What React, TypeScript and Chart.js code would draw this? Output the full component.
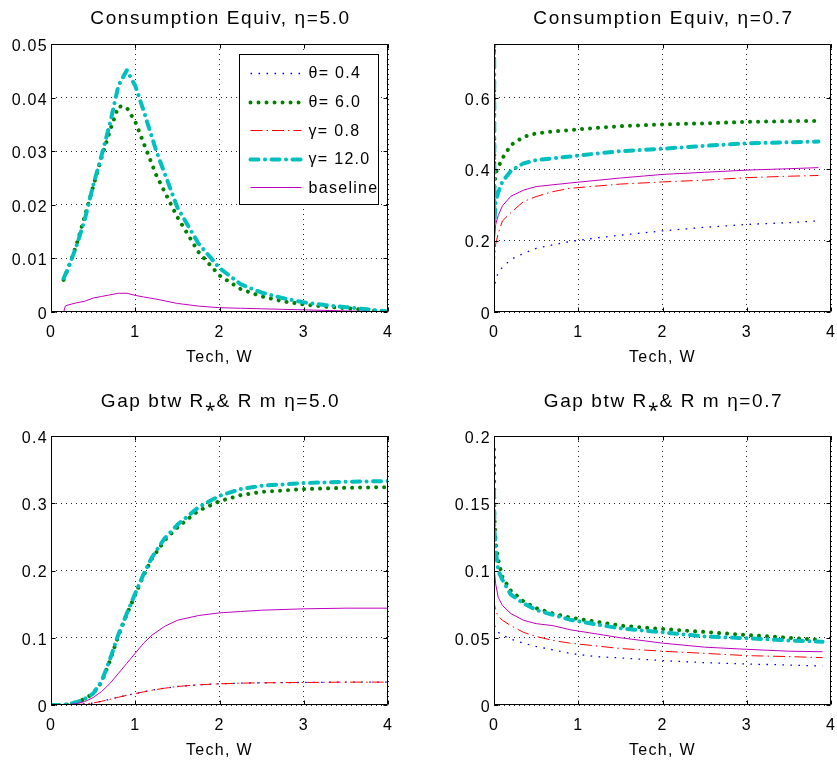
import React, { useEffect, useRef } from "react";
import { Chart, registerables } from "chart.js";

Chart.register(...registerables);

// ---------- shared ----------
const xTickValues = [0, 1, 2, 3, 4];
const legendLabels = ["θ= 0.4", "θ= 6.0", "γ= 0.8", "γ= 12.0", "baseline"];
const xAxisLabel = "Tech, W";

// ---------- panel A: Consumption Equiv, eta = 5.0 ----------
const aTitle = "Consumption Equiv, η=5.0";
const aX = [0.15, 0.17, 0.2, 0.3, 0.4, 0.5, 0.6, 0.7, 0.8, 0.9, 1.0, 1.1, 1.25, 1.5, 1.75, 2.0, 2.25, 2.5, 2.75, 3.0, 3.25, 3.5, 3.75, 4.0];
const aTheta04 = [0.00005, 0.00005, 0.00005, 0.00005, 0.00005, 0.00005, 0.00005, 0.00005, 0.00005, 0.00005, 0.00005, 0.00005, 0.00004, 0.00003, 0.00002, 0.00002, 0.00001, 0.00001, 0.00001, 0.00001, 0.00001, 0.0, 0.0, 0.0];
const aTheta60 = [0.006, 0.0068, 0.008, 0.0124, 0.0178, 0.0234, 0.0288, 0.0338, 0.0384, 0.0381, 0.0355, 0.0315, 0.0255, 0.0177, 0.0112, 0.0068, 0.0043, 0.0029, 0.002, 0.0014, 0.001, 0.0007, 0.0004, 0.0001];
const aGamma08 = [0.0001, 0.0001, 0.0001, 0.0001, 0.0001, 0.0001, 0.0001, 0.0001, 0.0001, 0.0001, 0.0001, 0.0001, 0.00008, 0.00006, 0.00005, 0.00004, 0.00003, 0.00003, 0.00002, 0.00002, 0.00001, 0.00001, 0.00001, 0.0];
const aGamma120 = [0.0063, 0.007, 0.008, 0.0122, 0.0172, 0.0236, 0.0292, 0.0352, 0.0422, 0.0451, 0.0422, 0.0375, 0.03, 0.0195, 0.0128, 0.0082, 0.0052, 0.0036, 0.0026, 0.0018, 0.0013, 0.0009, 0.0005, 0.0001];
const aBaseline = [0.0, 0.0011, 0.0013, 0.0017, 0.002, 0.0026, 0.0029, 0.0032, 0.0035, 0.0035, 0.0031, 0.0028, 0.0024, 0.0016, 0.0011, 0.0008, 0.0007, 0.0006, 0.0005, 0.0004, 0.0003, 0.0002, 0.0001, 0.0];
const aYTicks = [0, 0.01, 0.02, 0.03, 0.04, 0.05];
const aYMax = 0.05;

// ---------- panel B: Consumption Equiv, eta = 0.7 ----------
const bTitle = "Consumption Equiv, η=0.7";
const bX = [0, 0.005, 0.02, 0.05, 0.1, 0.2, 0.35, 0.5, 0.7, 0.9, 1.2, 1.5, 2.0, 2.5, 3.0, 3.5, 3.85];
const bTheta04 = [1.0, 0.07, 0.09, 0.11, 0.125, 0.147, 0.164, 0.178, 0.188, 0.197, 0.207, 0.215, 0.227, 0.237, 0.245, 0.25, 0.255];
const bTheta60 = [1.0, 0.35, 0.39, 0.405, 0.43, 0.467, 0.49, 0.5, 0.505, 0.509, 0.515, 0.52, 0.525, 0.528, 0.532, 0.534, 0.535];
const bGamma08 = [1.0, 0.14, 0.19, 0.22, 0.255, 0.278, 0.309, 0.323, 0.337, 0.346, 0.352, 0.358, 0.364, 0.369, 0.376, 0.38, 0.382];
const bGamma120 = [1.0, 0.25, 0.31, 0.335, 0.365, 0.395, 0.416, 0.425, 0.43, 0.435, 0.443, 0.45, 0.457, 0.465, 0.472, 0.475, 0.477];
const bBaseline = [1.0, 0.2, 0.245, 0.27, 0.297, 0.324, 0.341, 0.351, 0.356, 0.361, 0.368, 0.375, 0.385, 0.391, 0.397, 0.401, 0.404];
const bYTicks = [0, 0.2, 0.4, 0.6];
const bYMax = 0.75;

// ---------- panel C: Gap btw R* & Rm, eta = 5.0 ----------
const cTitle = "Gap btw R⁎& R m η=5.0";
const cX = [0, 0.1, 0.2, 0.3, 0.4, 0.5, 0.6, 0.7, 0.8, 0.9, 1.0, 1.1, 1.2, 1.35, 1.5, 1.75, 2.0, 2.25, 2.5, 3.0, 3.5, 4.0];
const cTheta04 = [0, 0, 0, 0.0005, 0.0015, 0.003, 0.0055, 0.0085, 0.0115, 0.0145, 0.017, 0.0195, 0.022, 0.025, 0.0275, 0.03, 0.0315, 0.0325, 0.033, 0.0335, 0.034, 0.034];
const cTheta60 = [0, 0, 0.001, 0.004, 0.009, 0.017, 0.034, 0.066, 0.103, 0.135, 0.164, 0.193, 0.218, 0.245, 0.264, 0.289, 0.303, 0.312, 0.317, 0.321, 0.323, 0.324];
const cGamma08 = [0, 0, 0, 0.0005, 0.0015, 0.003, 0.0055, 0.0085, 0.0115, 0.0145, 0.017, 0.0195, 0.022, 0.025, 0.0275, 0.03, 0.0315, 0.0325, 0.033, 0.0335, 0.034, 0.034];
const cGamma120 = [0, 0, 0.001, 0.004, 0.009, 0.017, 0.035, 0.068, 0.105, 0.136, 0.166, 0.195, 0.22, 0.248, 0.268, 0.294, 0.311, 0.321, 0.326, 0.33, 0.332, 0.333];
const cBaseline = [0, 0, 0.0005, 0.002, 0.005, 0.011, 0.02, 0.032, 0.047, 0.062, 0.077, 0.092, 0.104, 0.117, 0.126, 0.133, 0.137, 0.139, 0.141, 0.143, 0.144, 0.144];
const cYTicks = [0, 0.1, 0.2, 0.3, 0.4];
const cYMax = 0.4;

// ---------- panel D: Gap btw R* & Rm, eta = 0.7 ----------
const dTitle = "Gap btw R⁎& R m η=0.7";
const dX = [0, 0.005, 0.02, 0.05, 0.1, 0.2, 0.35, 0.5, 0.7, 0.9, 1.2, 1.5, 2.0, 2.5, 3.0, 3.5, 3.9];
const dTheta04 = [0.065, 0.06, 0.056, 0.054, 0.052, 0.049, 0.046, 0.0435, 0.041, 0.0384, 0.036, 0.035, 0.033, 0.0315, 0.0305, 0.0297, 0.029];
const dTheta60 = [0.19, 0.14, 0.12, 0.108, 0.095, 0.085, 0.077, 0.072, 0.068, 0.065, 0.062, 0.059, 0.0565, 0.0543, 0.052, 0.05, 0.0483];
const dGamma08 = [0.08, 0.075, 0.07, 0.066, 0.063, 0.059, 0.054, 0.051, 0.048, 0.046, 0.044, 0.042, 0.04, 0.0384, 0.0367, 0.036, 0.0352];
const dGamma120 = [0.16, 0.13, 0.115, 0.1, 0.093, 0.082, 0.0756, 0.0706, 0.067, 0.0635, 0.06, 0.057, 0.054, 0.051, 0.0496, 0.048, 0.047];
const dBaseline = [0.13, 0.1, 0.09, 0.08, 0.074, 0.068, 0.063, 0.0605, 0.059, 0.056, 0.053, 0.05, 0.046, 0.043, 0.0414, 0.04, 0.0396];
const dYTicks = [0, 0.05, 0.1, 0.15, 0.2];
const dYMax = 0.2;

// ---------- styles ----------
const seriesStyles = [
  { color: "#0000ff", width: 1.3, dash: [1.6, 6.4], cap: "butt" },
  { color: "#008000", width: 4, dash: [0.01, 8], cap: "round" },
  { color: "#ff0000", width: 1, dash: [12, 4, 1.5, 4], cap: "butt" },
  { color: "#00bfbf", width: 4, dash: [8, 6.5, 0.01, 6.5], cap: "round" },
  { color: "#bf00bf", width: 1, dash: [], cap: "butt" },
];

const W = 837;
const H = 764;
const Y_AXIS_W = 51;
const X_AXIS_H = 55;
const FONT = '"Liberation Sans", Arial, sans-serif';

type Panel = {
  title: string;
  titleDy: number;
  x: number[];
  ys: number[][];
  yTicks: number[];
  yMax: number;
  area: [number, number, number, number];
  legend: boolean;
};

const panels: Panel[] = [
  { title: aTitle, titleDy: 25.5, x: aX, ys: [aTheta04, aTheta60, aGamma08, aGamma120, aBaseline], yTicks: aYTicks, yMax: aYMax, area: [51, 44, 388, 312], legend: true },
  { title: bTitle, titleDy: 25.5, x: bX, ys: [bTheta04, bTheta60, bGamma08, bGamma120, bBaseline], yTicks: bYTicks, yMax: bYMax, area: [494, 44, 831, 312], legend: false },
  { title: cTitle, titleDy: 34.5, x: cX, ys: [cTheta04, cTheta60, cGamma08, cGamma120, cBaseline], yTicks: cYTicks, yMax: cYMax, area: [51, 436, 388, 705], legend: false },
  { title: dTitle, titleDy: 34.5, x: dX, ys: [dTheta04, dTheta60, dGamma08, dGamma120, dBaseline], yTicks: dYTicks, yMax: dYMax, area: [494, 436, 831, 705], legend: false },
];

const framePlugin = {
  id: "frame",
  beforeDraw(chart: any) {
    (chart.ctx as any).letterSpacing = "1.3px";
  },
  afterDraw(chart: any, _args: any, opts: any) {
    const { ctx, chartArea: a, scales } = chart;
    ctx.save();
    // box
    ctx.setLineDash([]);
    ctx.strokeStyle = "#000";
    ctx.lineWidth = 1;
    const L = Math.round(a.left) + 0.5;
    const T = Math.round(a.top) + 0.5;
    const R = Math.round(a.right) - 0.5;
    const B = Math.round(a.bottom) - 0.5;
    ctx.beginPath();
    ctx.rect(L, T, R - L, B - T);
    ctx.stroke();
    // inward ticks
    const tl = 4;
    ctx.beginPath();
    for (const t of scales.x.ticks) {
      const px = Math.round(scales.x.getPixelForValue(t.value)) + 0.5;
      ctx.moveTo(px, B);
      ctx.lineTo(px, B - tl);
      ctx.moveTo(px, T);
      ctx.lineTo(px, T + tl);
    }
    for (const t of scales.y.ticks) {
      const py = Math.round(scales.y.getPixelForValue(t.value)) + 0.5;
      ctx.moveTo(L, py);
      ctx.lineTo(L + tl, py);
      ctx.moveTo(R, py);
      ctx.lineTo(R - tl, py);
    }
    ctx.stroke();

    // title
    (ctx as any).letterSpacing = "1.6px";
    ctx.fillStyle = "#000";
    ctx.font = `19px ${FONT}`;
    ctx.textAlign = "center";
    ctx.textBaseline = "middle";
    ctx.fillText(opts.title, (a.left + a.right) / 2 + 1, a.top - opts.titleDy);

    // legend
    if (opts.legend) {
      const bx = Math.round(a.right) - 149 + 0.5;
      const by = Math.round(a.top) + 10 + 0.5;
      const bw = 139;
      const bh = 150;
      ctx.fillStyle = "#fff";
      ctx.fillRect(bx, by, bw, bh);
      ctx.strokeStyle = "#000";
      ctx.lineWidth = 1;
      ctx.setLineDash([]);
      ctx.strokeRect(bx, by, bw, bh);
      (ctx as any).letterSpacing = "1.3px";
      ctx.font = `16px ${FONT}`;
      ctx.textAlign = "left";
      chart.data.datasets.forEach((ds: any, i: number) => {
        const y = by + 18.5 + i * 28.6;
        ctx.save();
        ctx.strokeStyle = ds.borderColor;
        ctx.lineWidth = ds.borderWidth;
        ctx.lineCap = ds.borderCapStyle;
        ctx.setLineDash(ds.borderDash);
        ctx.beginPath();
        ctx.moveTo(bx + 11, Math.round(y) + 0.5);
        ctx.lineTo(bx + 62, Math.round(y) + 0.5);
        ctx.stroke();
        ctx.restore();
        ctx.fillStyle = "#000";
        ctx.fillText(ds.label, bx + 69, y + 1);
      });
    }
    ctx.restore();
  },
};

function PanelChart({ panel }: { panel: Panel }) {
  const ref = useRef<HTMLCanvasElement | null>(null);
  useEffect(() => {
    if (!ref.current) return;
    const [left, top, right, bottom] = panel.area;
    const datasets = panel.ys.map((ys, i) => {
      const st = seriesStyles[i];
      return {
        label: legendLabels[i],
        data: panel.x.map((x, j) => ({ x, y: ys[j] })),
        borderColor: st.color,
        backgroundColor: st.color,
        borderWidth: st.width,
        borderDash: st.dash,
        borderCapStyle: st.cap,
        borderJoinStyle: "round",
        pointRadius: 0,
        tension: 0,
        fill: false,
        order: 4 - i,
      };
    });
    const chart = new Chart(ref.current, {
      type: "line",
      data: { datasets },
      plugins: [framePlugin],
      options: {
        animation: false,
        responsive: false,
        devicePixelRatio: 1,
        events: [],
        layout: {
          padding: {
            left: left - Y_AXIS_W,
            top: top,
            right: W - right,
            bottom: H - bottom - X_AXIS_H,
          },
        },
        plugins: {
          legend: { display: false },
          tooltip: { enabled: false },
          title: { display: false },
          frame: { title: panel.title, titleDy: panel.titleDy, legend: panel.legend },
        } as any,
        scales: {
          x: {
            type: "linear",
            min: 0,
            max: 4,
            afterBuildTicks: (s: any) => {
              s.ticks = xTickValues.map((v) => ({ value: v }));
            },
            afterFit: (s: any) => {
              s.height = X_AXIS_H;
              s.paddingLeft = 0;
              s.paddingRight = 0;
              s.paddingTop = 0;
              s.paddingBottom = 0;
            },
            ticks: {
              autoSkip: false,
              maxRotation: 0,
              padding: 11,
              color: "#000",
              font: { family: FONT, size: 16 },
              callback: (v: any) => String(v),
            },
            grid: { color: "rgba(0,0,0,0.85)", lineWidth: 1, drawTicks: false },
            border: { display: false, dash: [1, 4] },
            title: {
              display: true,
              text: xAxisLabel,
              color: "#000",
              font: { family: FONT, size: 16 },
              padding: { top: 0, bottom: 0 },
            },
          },
          y: {
            type: "linear",
            min: 0,
            max: panel.yMax,
            afterBuildTicks: (s: any) => {
              s.ticks = panel.yTicks.map((v) => ({ value: v }));
            },
            afterFit: (s: any) => {
              s.width = Y_AXIS_W;
              s.paddingLeft = 0;
              s.paddingRight = 0;
              s.paddingTop = 0;
              s.paddingBottom = 0;
            },
            ticks: {
              autoSkip: false,
              padding: 3,
              labelOffset: 2.5,
              color: "#000",
              font: { family: FONT, size: 16 },
              callback: (v: any) => String(v),
            },
            grid: { color: "rgba(0,0,0,0.85)", lineWidth: 1, drawTicks: false },
            border: { display: false, dash: [1, 4] },
          },
        },
      } as any,
    });
    return () => chart.destroy();
  }, [panel]);
  return (
    <canvas
      ref={ref}
      width={W}
      height={H}
      style={{ position: "absolute", left: 0, top: 0, width: W, height: H }}
    />
  );
}

export default function App() {
  return (
    <div
      style={{
        position: "fixed",
        left: 0,
        top: 0,
        width: W,
        height: H,
        background: "#fff",
        overflow: "hidden",
      }}
    >
      {panels.map((p, i) => (
        <PanelChart key={i} panel={p} />
      ))}
    </div>
  );
}
